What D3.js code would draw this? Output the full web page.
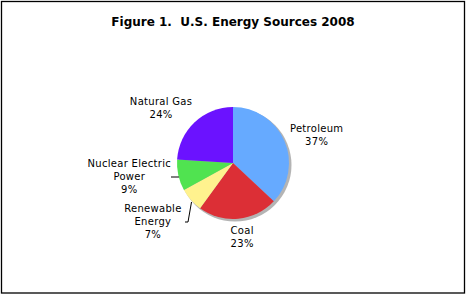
<!DOCTYPE html>
<html>
<head>
<meta charset="utf-8">
<script src="https://cdn.jsdelivr.net/npm/d3@7"></script>
<style>
  body { margin: 0; background: #fff; }
  text { font-family: Verdana, "DejaVu Sans", sans-serif; fill: #000; }
</style>
</head>
<body>
<div id="chart"></div>
<script>
// data
const sources = ['Petroleum', 'Coal', 'Renewable Energy', 'Nuclear Electric Power', 'Natural Gas']
const shares = [37, 23, 7, 9, 24]
const colors = ['#66aaff', '#dc2f36', '#fff28e', '#50e350', '#6b12ff']
const labelLines = [['Petroleum', '37%'], ['Coal', '23%'], ['Renewable', 'Energy', '7%'], ['Nuclear Electric', 'Power', '9%'], ['Natural Gas', '24%']]

const width = 466
const height = 295
const cx = 233
const cy = 163
const radius = 56

const svg = d3.select('#chart')
  .append('svg')
  .attr('width', width)
  .attr('height', height)

svg.append('rect')
  .attr('x', 1.5).attr('y', 1.5)
  .attr('width', width - 3).attr('height', height - 3.5)
  .attr('fill', '#fff')
  .attr('stroke', '#000')
  .attr('stroke-width', 1.3)

svg.append('text')
  .attr('x', width / 2)
  .attr('y', 26)
  .attr('text-anchor', 'middle')
  .style('font-size', '12px')
  .style('font-weight', 'bold')
  .attr('xml:space', 'preserve')
  .text('Figure 1.  U.S. Energy Sources 2008')

const g = svg.append('g').attr('transform', `translate(${cx},${cy})`)

// drop shadow
g.append('circle')
  .attr('cx', 2).attr('cy', 2)
  .attr('r', radius + 0.5)
  .attr('fill', '#b4b4b4')

const pie = d3.pie().sort(null).value(d => d)
const arcs = pie(shares)
const arc = d3.arc().innerRadius(0).outerRadius(radius)

g.selectAll('path.slice')
  .data(arcs)
  .join('path')
  .attr('class', 'slice')
  .attr('d', arc)
  .attr('fill', (d, i) => colors[i])

// labels sit on a ring outside the pie, nudged off the slice mid-angle
const labelArc = d3.arc().innerRadius(radius * 1.55).outerRadius(radius * 1.55)
const labelOffset = [[4, 9.5], [1, -8.5], [-15, 5], [-19, -1.5], [-12.5, 11.5]]
const lineH = 13

const labels = g.append('g').attr('text-anchor', 'middle').style('font-size', '10px')
arcs.forEach((d, i) => {
  const [lx, ly] = labelArc.centroid(d)
  const x = lx + labelOffset[i][0]
  const y = ly + labelOffset[i][1]
  const lines = labelLines[i]
  const t = labels.append('text')
    .attr('x', x)
    .attr('y', y - (lines.length - 1) * lineH / 2)
    .attr('dy', '0.35em')
    .style('letter-spacing', '0.3px')
  lines.forEach((s, k) => {
    t.append('tspan').attr('x', x).attr('dy', k === 0 ? 0 : lineH).text(s)
  })
})

// leader lines for the two small slices
const leaders = [
  { i: 3, pts: [[-62, 14], [-54, 14]] },
  { i: 2, pts: [[-48, 59], [-45, 59], [-41.5, 39]] }
]
g.selectAll('path.leader')
  .data(leaders)
  .join('path')
  .attr('class', 'leader')
  .attr('d', d => d3.line()(d.pts))
  .attr('fill', 'none')
  .attr('stroke', '#000')
  .attr('stroke-width', 1)
</script>
</body>
</html>
